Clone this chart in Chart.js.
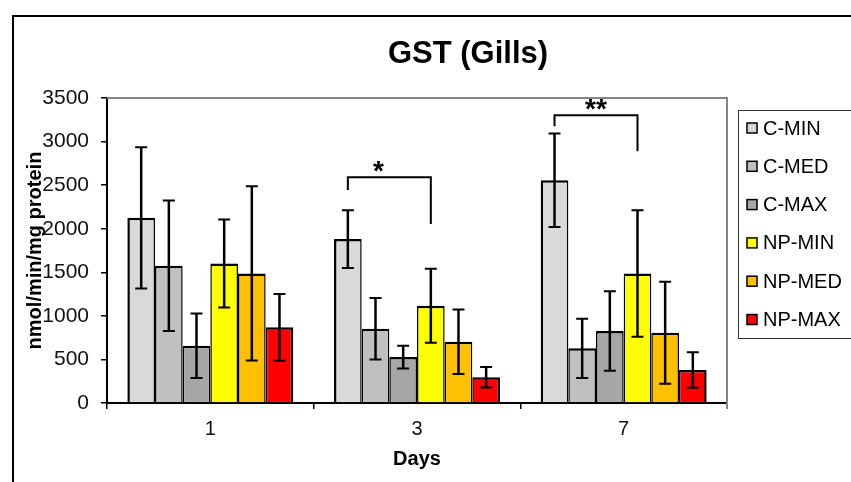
<!DOCTYPE html>
<html>
<head>
<meta charset="utf-8">
<script src="https://cdn.jsdelivr.net/npm/chart.js@4.4.1/dist/chart.umd.min.js"></script>
<style>
    body { margin: 0; background: #fff; }
    #wrap { position: relative; width: 851px; height: 482px; }
</style>
</head>
<body>
<div id="wrap"><canvas id="myChart"></canvas></div>
<script>
// Daten
var days = ["1", "3", "7"];
var groups = ["C-MIN", "C-MED", "C-MAX", "NP-MIN", "NP-MED", "NP-MAX"];
var colors = ["#d9d9d9", "#c0c0c0", "#a6a6a6", "#ffff00", "#ffc000", "#ff0000"];

var cMin = [2125, 1881, 2557];
var cMed = [1575, 852, 627];
var cMax = [657, 527, 826];
var npMin = [1602, 1116, 1487];
var npMed = [1487, 703, 806];
var npMax = [868, 295, 378];

var cMinSd = [810, 332, 536];
var cMedSd = [750, 352, 340];
var cMaxSd = [370, 130, 455];
var npMinSd = [505, 424, 726];
var npMedSd = [1000, 371, 585];
var npMaxSd = [382, 118, 203];

// Signifikanz-Klammern (C-MIN gegen NP-MIN)
var sigDay = ["3", "7"];
var sigTop = [2592, 3303];
var sigLeftEnd = [2443, 3177];
var sigRightEnd = [2053, 2890];
var sigLabel = ["*", "**"];
var sigLabelPos = [0.37, 0.5];

var yTicks = [0, 500, 1000, 1500, 2000, 2500, 3000, 3500];

Chart.defaults.font.family = "'Liberation Sans', Arial, sans-serif";
Chart.defaults.color = "#111";

var values = [cMin, cMed, cMax, npMin, npMed, npMax];
var sds = [cMinSd, cMedSd, cMaxSd, npMinSd, npMedSd, npMaxSd];

var datasets = groups.map(function (g, i) {
    var bw = { top: 2.5, bottom: 0, left: 1.5, right: 1.5 };
    if (i == 0) bw.left = 2.5;
    if (i == groups.length - 1) bw.right = 2.5;
    return {
        label: g,
        data: values[i],
        sd: sds[i],
        backgroundColor: colors[i],
        borderColor: "#000",
        borderWidth: bw,
        borderSkipped: false,
        inflateAmount: 0,
        barPercentage: 1.0,
        categoryPercentage: 0.803
    };
});

//Rahmen
var frame = {
    id: "frame",
    beforeDraw: function (chart) {
        var ctx = chart.ctx;
        ctx.save();
        ctx.fillStyle = "#fff";
        ctx.fillRect(0, 0, chart.width, chart.height);
        ctx.strokeStyle = "#000";
        ctx.lineWidth = 2;
        ctx.beginPath();
        ctx.moveTo(13, chart.height);
        ctx.lineTo(13, 16);
        ctx.lineTo(chart.width, 16);
        ctx.stroke();
        ctx.restore();
    },
    beforeDatasetsDraw: function (chart) {
        var a = chart.chartArea;
        var ctx = chart.ctx;
        ctx.save();
        ctx.strokeStyle = "#858585";
        ctx.lineWidth = 2;
        ctx.beginPath();
        ctx.moveTo(a.left, a.top);
        ctx.lineTo(a.right, a.top);
        ctx.lineTo(a.right, a.bottom + 6);
        ctx.stroke();
        ctx.restore();
    }
};

//Fehlerbalken
var errorBars = {
    id: "errorBars",
    afterDatasetsDraw: function (chart) {
        var ctx = chart.ctx;
        var y = chart.scales.y;
        ctx.save();
        ctx.strokeStyle = "#000";
        chart.data.datasets.forEach(function (ds, i) {
            var meta = chart.getDatasetMeta(i);
            meta.data.forEach(function (bar, j) {
                var hi = y.getPixelForValue(ds.data[j] + ds.sd[j]);
                var lo = y.getPixelForValue(ds.data[j] - ds.sd[j]);
                ctx.lineWidth = 2.5;
                ctx.beginPath();
                ctx.moveTo(bar.x, hi);
                ctx.lineTo(bar.x, lo);
                ctx.stroke();
                ctx.lineWidth = 2;
                ctx.beginPath();
                ctx.moveTo(bar.x - 6, hi);
                ctx.lineTo(bar.x + 6, hi);
                ctx.moveTo(bar.x - 6, lo);
                ctx.lineTo(bar.x + 6, lo);
                ctx.stroke();
            });
        });
        ctx.restore();
    }
};

//Klammern mit Sternen
var brackets = {
    id: "brackets",
    afterDatasetsDraw: function (chart) {
        var ctx = chart.ctx;
        var y = chart.scales.y;
        var m0 = chart.getDatasetMeta(0);
        var m3 = chart.getDatasetMeta(3);
        ctx.save();
        ctx.strokeStyle = "#000";
        ctx.fillStyle = "#000";
        ctx.lineWidth = 2;
        ctx.font = "bold 28px 'Liberation Sans', Arial, sans-serif";
        ctx.textAlign = "center";
        ctx.textBaseline = "alphabetic";
        for (var k = 0; k < sigDay.length; k++) {
            var d = days.indexOf(sigDay[k]);
            var x1 = m0.data[d].x;
            var x2 = m3.data[d].x;
            var yt = y.getPixelForValue(sigTop[k]);
            ctx.beginPath();
            ctx.moveTo(x1, y.getPixelForValue(sigLeftEnd[k]));
            ctx.lineTo(x1, yt);
            ctx.lineTo(x2, yt);
            ctx.lineTo(x2, y.getPixelForValue(sigRightEnd[k]));
            ctx.stroke();
            ctx.fillText(sigLabel[k], x1 + (x2 - x1) * sigLabelPos[k], yt + 3);
        }
        ctx.restore();
    }
};

//Titel und Legende
var titleLegend = {
    id: "titleLegend",
    afterDraw: function (chart) {
        var ctx = chart.ctx;
        var a = chart.chartArea;
        ctx.save();
        ctx.fillStyle = "#000";
        ctx.font = "bold 31px 'Liberation Sans', Arial, sans-serif";
        ctx.textAlign = "center";
        ctx.textBaseline = "middle";
        ctx.fillText("GST (Gills)", 468, 54);

        var left = a.right + 11;
        var top = 110;
        var bottom = 338;
        ctx.strokeStyle = "#333";
        ctx.lineWidth = 1;
        ctx.strokeRect(left + 0.5, top + 0.5, chart.width - left + 5, bottom - top);

        ctx.font = "20px 'Liberation Sans', Arial, sans-serif";
        ctx.textAlign = "left";
        chart.data.datasets.forEach(function (ds, i) {
            var cy = top + 18 + i * 38.3;
            ctx.fillStyle = ds.backgroundColor;
            ctx.fillRect(left + 9, cy - 5, 10, 10);
            ctx.strokeStyle = "#000";
            ctx.lineWidth = 1.5;
            ctx.strokeRect(left + 9, cy - 5, 10, 10);
            ctx.fillStyle = "#000";
            ctx.fillText(ds.label, left + 25, cy + 1);
        });
        ctx.restore();
    }
};

var myChart = new Chart(document.getElementById("myChart"), {
    type: "bar",
    data: {
        labels: days,
        datasets: datasets
    },
    options: {
        responsive: true,
        maintainAspectRatio: false,
        animation: false,
        layout: { padding: { top: 98, right: 124, left: 0, bottom: 0 } },
        plugins: {
            legend: { display: false },
            title: { display: false },
            tooltip: { enabled: false }
        },
        scales: {
            x: {
                grid: { offset: true, drawOnChartArea: false, tickLength: 6, color: "#000", lineWidth: 1.5 },
                border: { color: "#000", width: 2 },
                ticks: { font: { size: 20 }, padding: 8 },
                title: {
                    display: true,
                    text: "Days",
                    color: "#000",
                    font: { size: 20, weight: "bold" },
                    padding: { top: 0, bottom: 11 }
                },
                afterFit: function (scale) { scale.height = 79; }
            },
            y: {
                min: 0,
                max: 3500,
                afterBuildTicks: function (scale) {
                    scale.ticks = yTicks.map(function (v) { return { value: v }; });
                },
                grid: { drawOnChartArea: false, tickLength: 6, color: "#000", lineWidth: 1.5 },
                border: { color: "#000", width: 2 },
                ticks: {
                    font: { size: 21 },
                    padding: 12,
                    callback: function (value) { return String(value); }
                },
                title: {
                    display: true,
                    text: "nmol/min/mg protein",
                    color: "#000",
                    font: { size: 20, weight: "bold" },
                    padding: { top: 23, bottom: 0 }
                },
                afterFit: function (scale) { scale.width = 107; }
            }
        }
    },
    plugins: [frame, errorBars, brackets, titleLegend]
});
</script>
</body>
</html>
